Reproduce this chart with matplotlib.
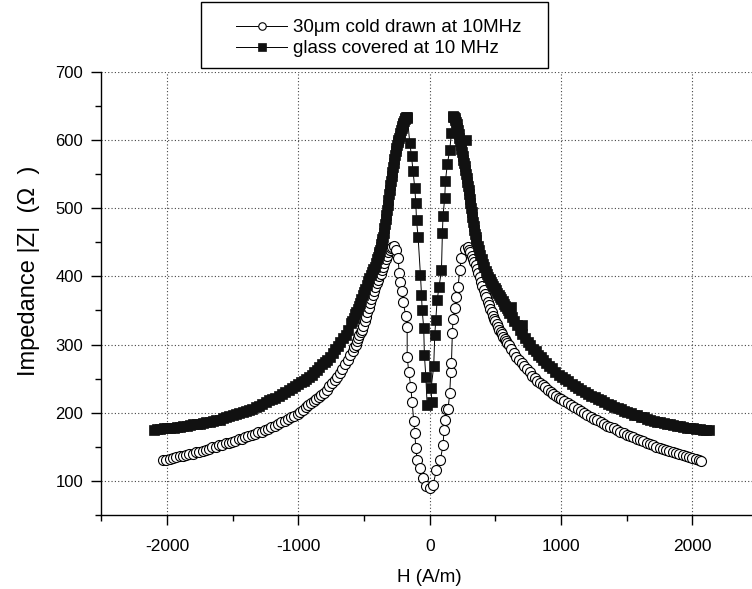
import matplotlib
matplotlib.use("Agg")
import matplotlib.pyplot as plt
from matplotlib.patches import Rectangle
from matplotlib.ticker import MultipleLocator

plt.rcParams["font.family"] = ["Liberation Sans", "DejaVu Sans"]
plt.rcParams["axes.unicode_minus"] = False

# 30um cold drawn wire at 10 MHz (open circles)
h_cold = [-2030, -2005, -1980, -1955, -1930, -1905, -1880, -1855, -1830, -1805,
          -1780, -1755, -1730, -1705, -1680, -1655, -1630, -1605, -1580, -1555,
          -1530, -1505, -1480, -1455, -1430, -1405, -1380, -1355, -1330, -1305,
          -1280, -1255, -1230, -1205, -1180, -1155, -1130, -1105, -1080, -1055,
          -1030, -1005, -985, -965, -945, -925, -905, -885, -865, -845,
          -825, -805, -785, -765, -745, -725, -705, -685, -665, -645,
          -625, -605, -585, -575, -565, -555, -545, -535, -525, -515,
          -505, -495, -485, -475, -465, -455, -445, -435, -425, -415,
          -405, -395, -385, -375, -365, -355, -345, -335, -325, -315,
          -305, -295, -285, -275,
          -260, -241, -233, -223, -211, -203, -183, -172, -172, -160,
          -144, -134, -122, -114, -106, -96, -76, -51, -25, 0,
          25, 51, 81, 101, 109, 119, 127, 139, 152, 160,
          165, 172, 177, 190, 203, 215, 228, 241, 265, 291,
          300, 310, 320, 330, 340, 350, 360, 370, 380, 390,
          400, 410, 420, 430, 440, 450, 460, 470, 480, 490,
          500, 510, 520, 530, 540, 550, 560, 570, 580, 590,
          600, 620, 640, 660, 680, 700, 720, 740, 760, 780,
          800, 820, 840, 860, 880, 900, 920, 940, 960, 980,
          1000, 1025, 1050, 1075, 1100, 1125, 1150, 1175, 1200, 1225,
          1250, 1275, 1300, 1325, 1350, 1375, 1400, 1425, 1450, 1475,
          1500, 1525, 1550, 1575, 1600, 1625, 1650, 1675, 1700, 1725,
          1750, 1775, 1800, 1825, 1850, 1875, 1900, 1925, 1950, 1975,
          2000, 2025, 2050, 2066]
z_cold = [130, 131, 132, 133, 135, 136, 137, 138, 139, 140,
          142, 143, 144, 146, 147, 149, 150, 152, 153, 155,
          156, 157, 159, 161, 162, 164, 166, 167, 169, 171,
          172, 174, 176, 179, 181, 183, 186, 188, 191, 193,
          195, 198, 201, 204, 208, 211, 214, 217, 220, 223,
          226, 229, 234, 239, 244, 248, 253, 258, 264, 271,
          278, 285, 291, 296, 300, 305, 309, 314, 318, 322,
          327, 334, 341, 347, 354, 361, 366, 372, 378, 384,
          390, 395, 400, 404, 409, 414, 419, 425, 430, 435,
          438, 442, 443, 444,
          438, 427, 405, 392, 379, 363, 342, 325, 282, 260,
          237, 215, 188, 170, 148, 131, 119, 104, 92, 89,
          94, 116, 131, 153, 175, 189, 206, 205, 229, 260,
          273, 317, 337, 353, 370, 384, 409, 427, 440, 443,
          439, 435, 430, 426, 421, 416, 411, 405, 399, 392,
          386, 380, 374, 369, 363, 358, 352, 347, 342, 338,
          334, 330, 326, 322, 319, 315, 311, 308, 305, 302,
          299, 294, 288, 282, 277, 273, 268, 264, 259, 254,
          251, 247, 244, 241, 238, 234, 231, 228, 225, 222,
          220, 217, 214, 211, 208, 205, 202, 199, 196, 193,
          191, 189, 186, 184, 181, 179, 177, 174, 172, 170,
          168, 166, 164, 162, 160, 158, 156, 154, 152, 150,
          148, 147, 145, 144, 142, 141, 139, 138, 136, 135,
          133, 132, 130, 129]

# glass covered wire at 10 MHz (filled squares)
h_glass = [-2100, -2075, -2050, -2025, -2000, -1975, -1950, -1925, -1900, -1875,
           -1850, -1825, -1800, -1775, -1750, -1725, -1700, -1675, -1650, -1625,
           -1600, -1575, -1550, -1525, -1500, -1475, -1450, -1425, -1400, -1375,
           -1350, -1325, -1300, -1275, -1250, -1225, -1200, -1175, -1150, -1125,
           -1100, -1075, -1050, -1025, -1000, -980, -960, -940, -920, -900,
           -880, -860, -840, -820, -800, -780, -760, -740, -720, -700,
           -680, -660, -640, -620, -600, -590, -580, -570, -560, -550,
           -540, -530, -520, -510, -500, -490, -480, -470, -460, -450,
           -440, -430, -420, -410, -400, -395, -390, -385, -380, -375,
           -370, -365, -360, -355, -350, -345, -340, -335, -330, -325,
           -320, -315, -310, -305, -300, -295, -290, -285, -280, -275,
           -270, -265, -260, -255, -250, -245, -240, -235, -230, -225,
           -220, -215, -210, -205, -200, -195, -190, -185, -180, -175,
           -170, -152, -139, -127, -114, -106, -101, -89, -71, -63,
           -58, -46, -41, -30, -20, 15, 10, 30, 38, 46,
           56, 71, 89, 96, 101, 114, 119, 134, 152, 165,
           175, 180, 185, 190, 195, 200, 205, 210, 215, 220,
           225, 230, 279, 235, 240, 245, 250, 255, 260, 265,
           270, 275, 280, 285, 290, 295, 300, 305, 310, 315,
           320, 325, 330, 335, 340, 345, 350, 355, 365, 375,
           385, 395, 405, 415, 425, 435, 445, 455, 465, 475,
           485, 495, 505, 515, 525, 535, 545, 555, 565, 575,
           585, 595, 605, 620, 625, 645, 665, 700, 685, 705,
           725, 745, 765, 785, 805, 825, 845, 865, 885, 905,
           930, 955, 980, 1005, 1030, 1055, 1080, 1105, 1130, 1155,
           1180, 1205, 1230, 1255, 1280, 1305, 1330, 1355, 1380, 1405,
           1430, 1455, 1480, 1505, 1530, 1555, 1580, 1605, 1630, 1655,
           1680, 1705, 1730, 1755, 1780, 1805, 1830, 1855, 1880, 1905,
           1930, 1955, 1980, 2005, 2030, 2055, 2080, 2105, 2129]
z_glass = [175, 176, 176, 177, 177, 178, 178, 179, 179, 180,
           181, 182, 183, 184, 184, 185, 186, 187, 188, 189,
           190, 192, 193, 195, 196, 198, 199, 201, 202, 204,
           206, 208, 210, 213, 215, 218, 220, 222, 225, 227,
           230, 233, 236, 239, 242, 245, 247, 250, 252, 255,
           259, 263, 267, 271, 274, 278, 282, 287, 293, 298,
           304, 309, 314, 322, 331, 335, 339, 344, 348, 352,
           357, 361, 366, 372, 377, 382, 387, 393, 398, 402,
           406, 410, 413, 419, 426, 429, 432, 436, 439, 443,
           447, 450, 454, 458, 464, 471, 477, 484, 490, 497,
           505, 512, 520, 527, 534, 540, 547, 553, 560, 566,
           572, 578, 584, 588, 592, 597, 600, 603, 606, 610,
           615, 618, 620, 623, 625, 628, 630, 632, 633, 634,
           632, 595, 576, 554, 529, 507, 482, 458, 402, 373,
           351, 324, 285, 253, 211, 216, 236, 268, 314, 336,
           365, 385, 409, 463, 489, 515, 539, 565, 585, 610,
           634, 635, 634, 632, 629, 626, 623, 618, 614, 609,
           603, 598, 600, 593, 587, 582, 577, 571, 566, 561,
           556, 550, 544, 538, 532, 526, 520, 513, 507, 500,
           494, 487, 480, 474, 468, 462, 457, 453, 445, 438,
           431, 425, 418, 413, 408, 403, 399, 396, 392, 389,
           386, 383, 380, 376, 373, 370, 367, 364, 360, 357,
           354, 350, 346, 355, 340, 335, 328, 328, 322, 316,
           309, 304, 299, 294, 290, 285, 281, 277, 273, 269,
           265, 260, 256, 253, 249, 246, 242, 239, 236, 233,
           230, 228, 225, 223, 220, 218, 215, 213, 211, 209,
           207, 205, 203, 201, 199, 197, 196, 194, 193, 191,
           190, 188, 187, 186, 185, 184, 183, 182, 181, 180,
           179, 178, 177, 177, 176, 176, 175, 175, 175]

labels = ["30\u03bcm cold drawn at 10MHz", "glass covered at 10 MHz"]

fig = plt.figure(figsize=(7.52, 5.89), dpi=100)
ax = fig.add_axes([0.1348, 0.1256, 0.8734, 0.7527])

l1, = ax.plot(h_cold, z_cold, color="black", linewidth=0.7, marker="o",
              markersize=7.2, markerfacecolor="white", markeredgecolor="black",
              markeredgewidth=0.8, label=labels[0])
l2, = ax.plot(h_glass, z_glass, color="black", linewidth=0.7, marker="s",
              markersize=6.8, markerfacecolor="#111111", markeredgecolor="#111111",
              markeredgewidth=0.5, label=labels[1])

ax.set_xlim(-2500, 2500)
ax.set_ylim(50, 700)
ax.xaxis.set_major_locator(MultipleLocator(1000))
ax.xaxis.set_minor_locator(MultipleLocator(500))
ax.yaxis.set_minor_locator(MultipleLocator(50))
ax.set_yticks([100, 200, 300, 400, 500, 600, 700])
ax.tick_params(which="major", direction="out", length=7, width=1)
ax.tick_params(which="minor", direction="out", length=4, width=1)
ax.tick_params(axis="x", which="major", labelsize=12.5, pad=10)
ax.tick_params(axis="y", which="major", labelsize=12, pad=6)
ax.grid(True, which="major", linestyle=(0, (1, 2)), color="#444444", linewidth=0.8)
for side in ["top", "right"]:
    ax.spines[side].set_visible(False)
for side in ["left", "bottom"]:
    ax.spines[side].set_linewidth(1)

ax.set_xlabel("H (A/m)", fontsize=13.5, labelpad=11)
ax.set_ylabel("Impedance |Z|  (\u03a9  )", fontsize=17)
ax.yaxis.set_label_coords(-0.094, 0.55)

leg = fig.legend(handles=[l1, l2], loc="upper left", bbox_to_anchor=(0.297, 0.99),
                 frameon=False, fontsize=13.5, handlelength=2.7, handletextpad=0.3,
                 markerscale=0.75, labelspacing=0.22, borderpad=0.2)
fig.patches.append(Rectangle((0.267, 0.8846), 0.462, 0.112, transform=fig.transFigure,
                             fill=False, edgecolor="black", linewidth=1))

fig.savefig("out.png", dpi=100)
